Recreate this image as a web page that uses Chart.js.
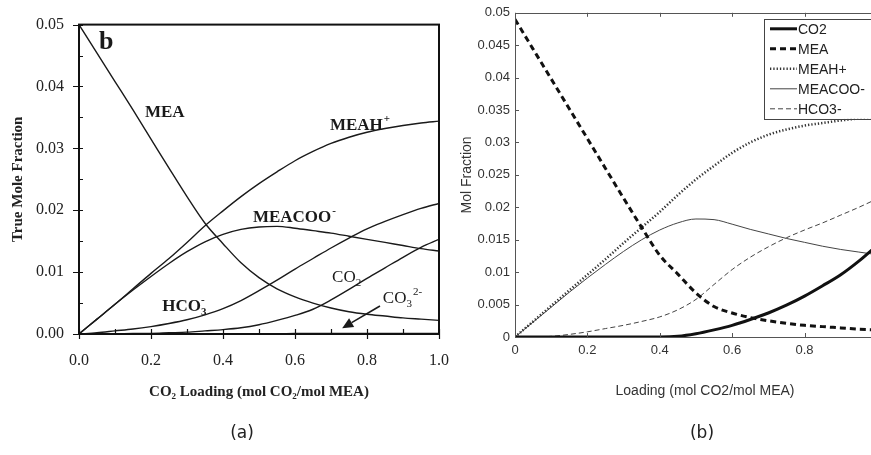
<!DOCTYPE html>
<html>
<head>
<meta charset="utf-8">
<script src="https://cdn.jsdelivr.net/npm/chart.js@4.4.1/dist/chart.umd.min.js"></script>
<style>
  html, body { margin: 0; padding: 0; background: #fff; width: 871px; height: 455px; overflow: hidden; }
  canvas { position: absolute; top: 0; }
  #chartA { left: 0; }
  #chartB { left: 440px; }
  .cap { position: absolute; top: 422px; font-family: "DejaVu Sans", sans-serif; font-size: 17px; color: #222; transform: translateX(-50%); }
</style>
</head>
<body>
<canvas id="chartA" width="470" height="455"></canvas>
<canvas id="chartB" width="465" height="455"></canvas>
<div class="cap" style="left:242px">(a)</div>
<div class="cap" style="left:702px">(b)</div>
<script>
// CO2 loading, mol CO2 / mol MEA
const loading = [0, 0.05, 0.1, 0.15, 0.2, 0.25, 0.3, 0.35, 0.4, 0.45, 0.5,
                 0.55, 0.6, 0.65, 0.7, 0.75, 0.8, 0.85, 0.9, 0.95, 1.0];

// Panel (a): true mole fractions
const meaA    = [0.0500, 0.0454, 0.0408, 0.0362, 0.0315, 0.0268, 0.0222, 0.0179, 0.0146, 0.0115, 0.0091,
                 0.0073, 0.0060, 0.0050, 0.0042, 0.0036, 0.0032, 0.0029, 0.0026, 0.0024, 0.0022];
const meahA   = [0, 0.0024, 0.0048, 0.0073, 0.0098, 0.0122, 0.0148, 0.0175, 0.0199, 0.0222, 0.0243,
                 0.0262, 0.0280, 0.0295, 0.0308, 0.0318, 0.0326, 0.0332, 0.0337, 0.0341, 0.0344];
const meacooA = [0, 0.0024, 0.0048, 0.0071, 0.0093, 0.0114, 0.0133, 0.0149, 0.0161, 0.0169, 0.0173,
                 0.0174, 0.0171, 0.0167, 0.0163, 0.0158, 0.0153, 0.0148, 0.0143, 0.0138, 0.0134];
const hco3A   = [0, 0.0002, 0.0005, 0.0008, 0.0012, 0.0017, 0.0023, 0.0031, 0.0041, 0.0054, 0.0070,
                 0.0087, 0.0105, 0.0122, 0.0139, 0.0155, 0.0170, 0.0182, 0.0193, 0.0203, 0.0211];
const co2A    = [0, 0, 0, 0.0001, 0.0001, 0.0002, 0.0003, 0.0005, 0.0007, 0.0010, 0.0015,
                 0.0022, 0.0030, 0.0040, 0.0055, 0.0072, 0.0090, 0.0107, 0.0124, 0.0140, 0.0153];
const co3A    = [0, 0, 0, 0, 0, 0, 0, 0, 0, 0, 0,
                 0, 0.0001, 0.0001, 0.0001, 0.0001, 0.0001, 0.0001, 0.0001, 0.0001, 0.0001];

// Panel (b): mol fractions
const co2B    = [0, 0, 0, 0, 0, 0, 0, 0, 0, 0.0001, 0.0005,
                 0.0011, 0.0018, 0.0027, 0.0037, 0.0049, 0.0063, 0.0079, 0.0096, 0.0117, 0.0141];
const meaB    = [0.0490, 0.0444, 0.0398, 0.0352, 0.0306, 0.0260, 0.0214, 0.0169, 0.0126, 0.0097, 0.0068,
                 0.0047, 0.0037, 0.0030, 0.0025, 0.0021, 0.0018, 0.0016, 0.0014, 0.0012, 0.0011];
const meahB   = [0, 0.0024, 0.0048, 0.0072, 0.0096, 0.0120, 0.0145, 0.0169, 0.0193, 0.0219, 0.0243,
                 0.0264, 0.0284, 0.0300, 0.0312, 0.0320, 0.0326, 0.0330, 0.0334, 0.0337, 0.0340];
const meacooB = [0, 0.0023, 0.0046, 0.0069, 0.0091, 0.0112, 0.0132, 0.0150, 0.0165, 0.0176, 0.0182,
                 0.0181, 0.0174, 0.0166, 0.0159, 0.0152, 0.0146, 0.0140, 0.0135, 0.0131, 0.0127];
const hco3B   = [0, 0, 0.0001, 0.0004, 0.0008, 0.0013, 0.0018, 0.0024, 0.0031, 0.0042, 0.0058,
                 0.0081, 0.0104, 0.0123, 0.0139, 0.0153, 0.0165, 0.0176, 0.0188, 0.0200, 0.0213];

// Tick values and labels
const xTicksA = [0, 0.2, 0.4, 0.6, 0.8, 1.0];
const xTickLabelsA = ['0.0', '0.2', '0.4', '0.6', '0.8', '1.0'];
const yTicksA = [0, 0.01, 0.02, 0.03, 0.04, 0.05];
const yTickLabelsA = ['0.00', '0.01', '0.02', '0.03', '0.04', '0.05'];
const xTicksB = [0, 0.2, 0.4, 0.6, 0.8, 1.0];
const xTickLabelsB = ['0', '0.2', '0.4', '0.6', '0.8', '1'];
const yTicksB = [0, 0.005, 0.01, 0.015, 0.02, 0.025, 0.03, 0.035, 0.04, 0.045, 0.05];
const yTickLabelsB = ['0', '0.005', '0.01', '0.015', '0.02', '0.025', '0.03', '0.035', '0.04', '0.045', '0.05'];

const SERIF = '"Liberation Serif", "Times New Roman", serif';
const SANS = '"Liberation Sans", Arial, sans-serif';

const pts = (vals) => loading.map((l, i) => ({ x: l, y: vals[i] }));

// Species names placed on panel (a), anchored in data units (left edge, baseline)
const labelsA = [
  { segs: [{ t: 'MEA' }], at: [0.183, 0.0350], bold: true },
  { segs: [{ t: 'MEAH' }, { t: '+', k: 'sup' }], at: [0.697, 0.0330], bold: true },
  { segs: [{ t: 'MEACOO' }, { t: '-', k: 'sup' }], at: [0.483, 0.0181], bold: true },
  { segs: [{ t: 'HCO' }, { t: '3', k: 'sub' }, { t: '-', k: 'sup', stack: true }], at: [0.231, 0.00375], bold: true },
  { segs: [{ t: 'CO' }, { t: '2', k: 'sub' }], at: [0.703, 0.0084], bold: false },
  { segs: [{ t: 'CO' }, { t: '3', k: 'sub' }, { t: '2-', k: 'sup' }], at: [0.844, 0.0050], bold: false }
];
const arrowA = { from: [0.836, 0.00453], to: [0.731, 0.00094] };

function drawRich(ctx, segs, x0, y0, size, family, weight) {
  let x = x0, lastStart = x0;
  ctx.textAlign = 'left';
  ctx.textBaseline = 'alphabetic';
  for (const s of segs) {
    const k = s.k || 'n';
    const fs = k === 'n' ? size : Math.round(size * 0.62);
    ctx.font = `${weight} ${fs}px ${family}`;
    const dy = k === 'sub' ? size * 0.22 : (k === 'sup' ? -size * 0.45 : 0);
    const sx = s.stack ? lastStart : x + (k === 'sup' ? 1 : 0);
    ctx.fillText(s.t, sx, y0 + dy);
    const w = ctx.measureText(s.t).width;
    if (s.stack) {
      x = Math.max(x, sx + w);
    } else {
      lastStart = sx;
      x = sx + w;
    }
  }
}

// Frame, tick marks, species labels and arrow for panel (a)
const decorA = {
  id: 'decorA',
  afterDatasetsDraw(chart) {
    const { ctx, chartArea: a, scales: { x, y } } = chart;
    ctx.save();
    ctx.strokeStyle = '#111';
    ctx.lineWidth = 2;
    ctx.strokeRect(a.left, a.top, a.right - a.left, a.bottom - a.top);
    ctx.lineWidth = 1.2;
    ctx.beginPath();
    for (let i = 0; i <= 10; i++) {
      const px = Math.round(x.getPixelForValue(i / 10)) + 0.5;
      ctx.moveTo(px, a.bottom); ctx.lineTo(px, a.bottom - 5);
      if (i % 2 === 0) { ctx.moveTo(px, a.bottom); ctx.lineTo(px, a.bottom + 5); }
    }
    for (let i = 0; i <= 10; i++) {
      const py = Math.round(y.getPixelForValue(i * 0.005)) + 0.5;
      ctx.moveTo(a.left, py); ctx.lineTo(a.left + 4, py);
      if (i % 2 === 0) { ctx.moveTo(a.left - 6, py); ctx.lineTo(a.left, py); }
    }
    ctx.stroke();

    ctx.fillStyle = '#1a1a1a';
    for (const lb of labelsA) {
      drawRich(ctx, lb.segs, x.getPixelForValue(lb.at[0]), y.getPixelForValue(lb.at[1]),
               17, SERIF, lb.bold ? 'bold' : 'normal');
    }
    ctx.font = `bold 26px ${SERIF}`;
    ctx.fillText('b', a.left + 20, a.top + 24);

    // arrow pointing at the carbonate curve
    const x0 = x.getPixelForValue(arrowA.from[0]), y0 = y.getPixelForValue(arrowA.from[1]);
    const x1 = x.getPixelForValue(arrowA.to[0]), y1 = y.getPixelForValue(arrowA.to[1]);
    const ang = Math.atan2(y1 - y0, x1 - x0);
    const hl = 11, hw = 5;
    const bx = x1 - hl * Math.cos(ang), by = y1 - hl * Math.sin(ang);
    ctx.strokeStyle = '#1a1a1a';
    ctx.lineWidth = 1.6;
    ctx.beginPath(); ctx.moveTo(x0, y0); ctx.lineTo(bx, by); ctx.stroke();
    ctx.beginPath();
    ctx.moveTo(x1, y1);
    ctx.lineTo(bx + hw * Math.sin(ang), by - hw * Math.cos(ang));
    ctx.lineTo(bx - hw * Math.sin(ang), by + hw * Math.cos(ang));
    ctx.closePath(); ctx.fill();
    ctx.restore();
  }
};

// Axes box, inward ticks and legend for panel (b)
const decorB = {
  id: 'decorB',
  afterDatasetsDraw(chart) {
    const { ctx, chartArea: a, scales: { x, y } } = chart;
    ctx.save();
    ctx.strokeStyle = '#555';
    ctx.lineWidth = 1;
    ctx.strokeRect(Math.round(a.left) + 0.5, Math.round(a.top) + 0.5, Math.round(a.right - a.left), Math.round(a.bottom - a.top));
    ctx.beginPath();
    for (const v of yTicksB) {
      const py = Math.round(y.getPixelForValue(v)) + 0.5;
      ctx.moveTo(a.left, py); ctx.lineTo(a.left + 4, py);
      ctx.moveTo(a.right, py); ctx.lineTo(a.right - 4, py);
    }
    for (const v of xTicksB) {
      const px = Math.round(x.getPixelForValue(v)) + 0.5;
      ctx.moveTo(px, a.bottom); ctx.lineTo(px, a.bottom - 4);
      ctx.moveTo(px, a.top); ctx.lineTo(px, a.top + 4);
    }
    ctx.stroke();

    // legend box in the upper right corner of the axes
    const bl = a.right - 131, bt = a.top + 6, bw = 126, bh = 100;
    ctx.fillStyle = '#fff';
    ctx.fillRect(bl, bt, bw, bh);
    ctx.strokeStyle = '#444';
    ctx.strokeRect(Math.round(bl) + 0.5, Math.round(bt) + 0.5, bw, bh);
    ctx.font = `14px ${SANS}`;
    ctx.textAlign = 'left';
    ctx.textBaseline = 'middle';
    chart.data.datasets.forEach((ds, i) => {
      const cy = bt + 10 + i * 20;
      ctx.strokeStyle = ds.borderColor;
      ctx.lineWidth = ds.borderWidth;
      ctx.setLineDash(ds.borderDash || []);
      ctx.beginPath();
      ctx.moveTo(bl + 6, cy); ctx.lineTo(bl + 33, cy);
      ctx.stroke();
      ctx.setLineDash([]);
      ctx.fillStyle = '#222';
      ctx.fillText(ds.label, bl + 34, cy + 1);
    });
    ctx.restore();
  }
};

const lineDefaults = { pointRadius: 0, cubicInterpolationMode: 'monotone', fill: false };

new Chart(document.getElementById('chartA'), {
  type: 'line',
  data: {
    datasets: [
      { label: 'MEA', data: pts(meaA), borderColor: '#1a1a1a', borderWidth: 1.4, ...lineDefaults },
      { label: 'MEAH+', data: pts(meahA), borderColor: '#1a1a1a', borderWidth: 1.4, ...lineDefaults },
      { label: 'MEACOO-', data: pts(meacooA), borderColor: '#1a1a1a', borderWidth: 1.4, ...lineDefaults },
      { label: 'HCO3-', data: pts(hco3A), borderColor: '#1a1a1a', borderWidth: 1.4, ...lineDefaults },
      { label: 'CO2', data: pts(co2A), borderColor: '#1a1a1a', borderWidth: 1.4, ...lineDefaults },
      { label: 'CO3 2-', data: pts(co3A), borderColor: '#1a1a1a', borderWidth: 1.4, ...lineDefaults }
    ]
  },
  options: {
    responsive: false, animation: false, devicePixelRatio: 1,
    layout: { padding: { left: 0, top: 14, right: 31, bottom: 0 } },
    plugins: { legend: { display: false }, tooltip: { enabled: false } },
    scales: {
      x: {
        type: 'linear', min: 0, max: 1,
        afterBuildTicks: s => { s.ticks = xTicksA.map(v => ({ value: v })); },
        afterFit: s => { s.height = 121; },
        grid: { display: false, drawTicks: false }, border: { display: false },
        ticks: { callback: (v, i) => xTickLabelsA[i], font: { family: SERIF, size: 16 }, color: '#222', padding: 17, maxRotation: 0 },
        title: { display: true, text: 'CO₂ Loading (mol CO₂/mol MEA)', font: { family: SERIF, size: 15, weight: 'bold' }, color: '#222', padding: { top: 0, bottom: 54 } }
      },
      y: {
        type: 'linear', min: 0, max: 0.05,
        afterBuildTicks: s => { s.ticks = yTicksA.map(v => ({ value: v })); },
        afterFit: s => { s.width = 79; },
        grid: { display: false, drawTicks: false }, border: { display: false },
        ticks: { callback: (v, i) => yTickLabelsA[i], font: { family: SERIF, size: 16 }, color: '#222', padding: 15 },
        title: { display: true, text: 'True Mole Fraction', font: { family: SERIF, size: 15, weight: 'bold' }, color: '#222', padding: { top: 9, bottom: 0 } }
      }
    }
  },
  plugins: [decorA]
});

new Chart(document.getElementById('chartB'), {
  type: 'line',
  data: {
    datasets: [
      { label: 'CO2', data: pts(co2B), borderColor: '#111', borderWidth: 3, ...lineDefaults },
      { label: 'MEA', data: pts(meaB), borderColor: '#111', borderWidth: 3, borderDash: [6, 4], ...lineDefaults },
      { label: 'MEAH+', data: pts(meahB), borderColor: '#333', borderWidth: 2.5, borderDash: [1.3, 2], ...lineDefaults },
      { label: 'MEACOO-', data: pts(meacooB), borderColor: '#444', borderWidth: 1, ...lineDefaults },
      { label: 'HCO3-', data: pts(hco3B), borderColor: '#444', borderWidth: 1, borderDash: [5, 3], ...lineDefaults }
    ]
  },
  options: {
    responsive: false, animation: false, devicePixelRatio: 1,
    layout: { padding: { left: 0, top: 11, right: 10, bottom: 0 } },
    plugins: { legend: { display: false }, tooltip: { enabled: false } },
    scales: {
      x: {
        type: 'linear', min: 0, max: 1.05,
        afterBuildTicks: s => { s.ticks = xTicksB.map(v => ({ value: v })); },
        afterFit: s => { s.height = 118; },
        grid: { display: false, drawTicks: false }, border: { display: false },
        ticks: { callback: (v, i) => xTickLabelsB[i], font: { family: SANS, size: 13 }, color: '#333', padding: 6, maxRotation: 0 },
        title: { display: true, text: 'Loading (mol CO2/mol MEA)', font: { family: SANS, size: 14 }, color: '#333', padding: { top: 0, bottom: 55 } }
      },
      y: {
        type: 'linear', min: 0, max: 0.05,
        afterBuildTicks: s => { s.ticks = yTicksB.map(v => ({ value: v })); },
        afterFit: s => { s.width = 75; },
        grid: { display: false, drawTicks: false }, border: { display: false },
        ticks: { callback: (v, i) => yTickLabelsB[i], font: { family: SANS, size: 13 }, color: '#333', padding: 5 },
        title: { display: true, text: 'Mol Fraction', font: { family: SANS, size: 14 }, color: '#333', padding: { top: 19, bottom: 0 } }
      }
    }
  },
  plugins: [decorB]
});
</script>
</body>
</html>
